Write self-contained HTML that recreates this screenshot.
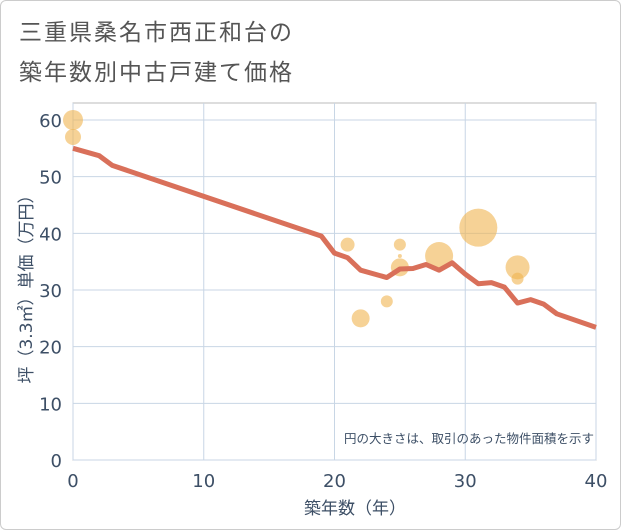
<!DOCTYPE html>
<html><head><meta charset="utf-8"><style>
body{margin:0;background:#fff;font-family:"DejaVu Sans","Noto Sans CJK JP",sans-serif;}
#wrap{position:relative;width:619px;height:528px;border:1px solid #ccc;border-radius:6px;overflow:hidden;background:#fff}
.t{position:absolute;left:18px;font-size:23px;color:#555;letter-spacing:2px;font-family:"Noto Sans CJK JP",sans-serif}
</style></head><body>
<div id="wrap">
<div class="t" style="top:12px">三重県桑名市西正和台の</div>
<div class="t" style="top:52px">築年数別中古戸建て価格</div>
<svg id="c" width="621" height="530" style="position:absolute;left:-1px;top:-1px"></svg>
</div>
<script>
const lineX=[0,2,3,19,20,21,22,24,25,26,27,28,29,30,31,32,33,34,35,36,37,40];
const lineY=[55,53.7,52,39.5,36.5,35.7,33.5,32.2,33.7,33.8,34.5,33.5,34.8,32.8,31.1,31.3,30.5,27.7,28.3,27.5,25.8,23.4];
const bubX=[0,0,21,22,24,25,25,25,28,31,34,34];
const bubY=[60,57,38,25,28,38,34,36,36,41,34,32];
const bubR=[10,8,7,9,6,6,9,2,14,19,12,6];
const xTicks=[0,10,20,30,40];
const yTicks=[0,10,20,30,40,50,60];
const NS="http://www.w3.org/2000/svg";
const svg=document.getElementById('c');
const X=v=>73+v*(596-73)/40, Y=v=>460-v*(340/60);
function mk(t,a,p){const e=document.createElementNS(NS,t);for(const k in a)e.setAttribute(k,a[k]);(p||svg).appendChild(e);return e;}
const frame=mk('rect',{x:73,y:103,width:523,height:357,fill:'none',stroke:'#bbb'});


xTicks.forEach(v=>{const l=mk('line',{x1:X(v),x2:X(v),y1:103,y2:460,stroke:'#c8d6e5'});


const t=mk('text',{x:X(v),y:487,'text-anchor':'middle','font-size':18,fill:'#3d4f66'});t.textContent=v;

});
yTicks.forEach(v=>{const l=mk('line',{x1:73,x2:596,y1:Y(v),y2:Y(v),stroke:'#c8d6e5'});


const t=mk('text',{x:62,y:Y(v)+7,'text-anchor':'end','font-size':18,fill:'#3d4f66'});t.textContent=v;

});
bubX.forEach((v,i)=>{const c=mk('circle',{cx:X(v),cy:Y(bubY[i]),r:bubR[i],fill:'rgba(240,180,80,0.6)'});

});
const pl=mk('polyline',{points:lineX.map((v,i)=>X(v)+','+Y(lineY[i])).join(' '),fill:'none',stroke:'#d9705a','stroke-width':5,'stroke-linejoin':'round'});


const n=mk('text',{x:594,y:443,'text-anchor':'end','font-size':12.5,fill:'#3d4f66'});n.textContent='円の大きさは、取引のあった物件面積を示す';


const xt=mk('text',{x:355,y:514,'text-anchor':'middle','font-size':17,fill:'#3d4f66'});xt.textContent='築年数（年）';


const yt=mk('text',{x:0,y:0,'text-anchor':'middle','font-size':17,fill:'#3d4f66',transform:'translate(32,285) rotate(-90)'});yt.textContent='坪（3.3㎡）単価（万円）';


</script>
</body></html>
